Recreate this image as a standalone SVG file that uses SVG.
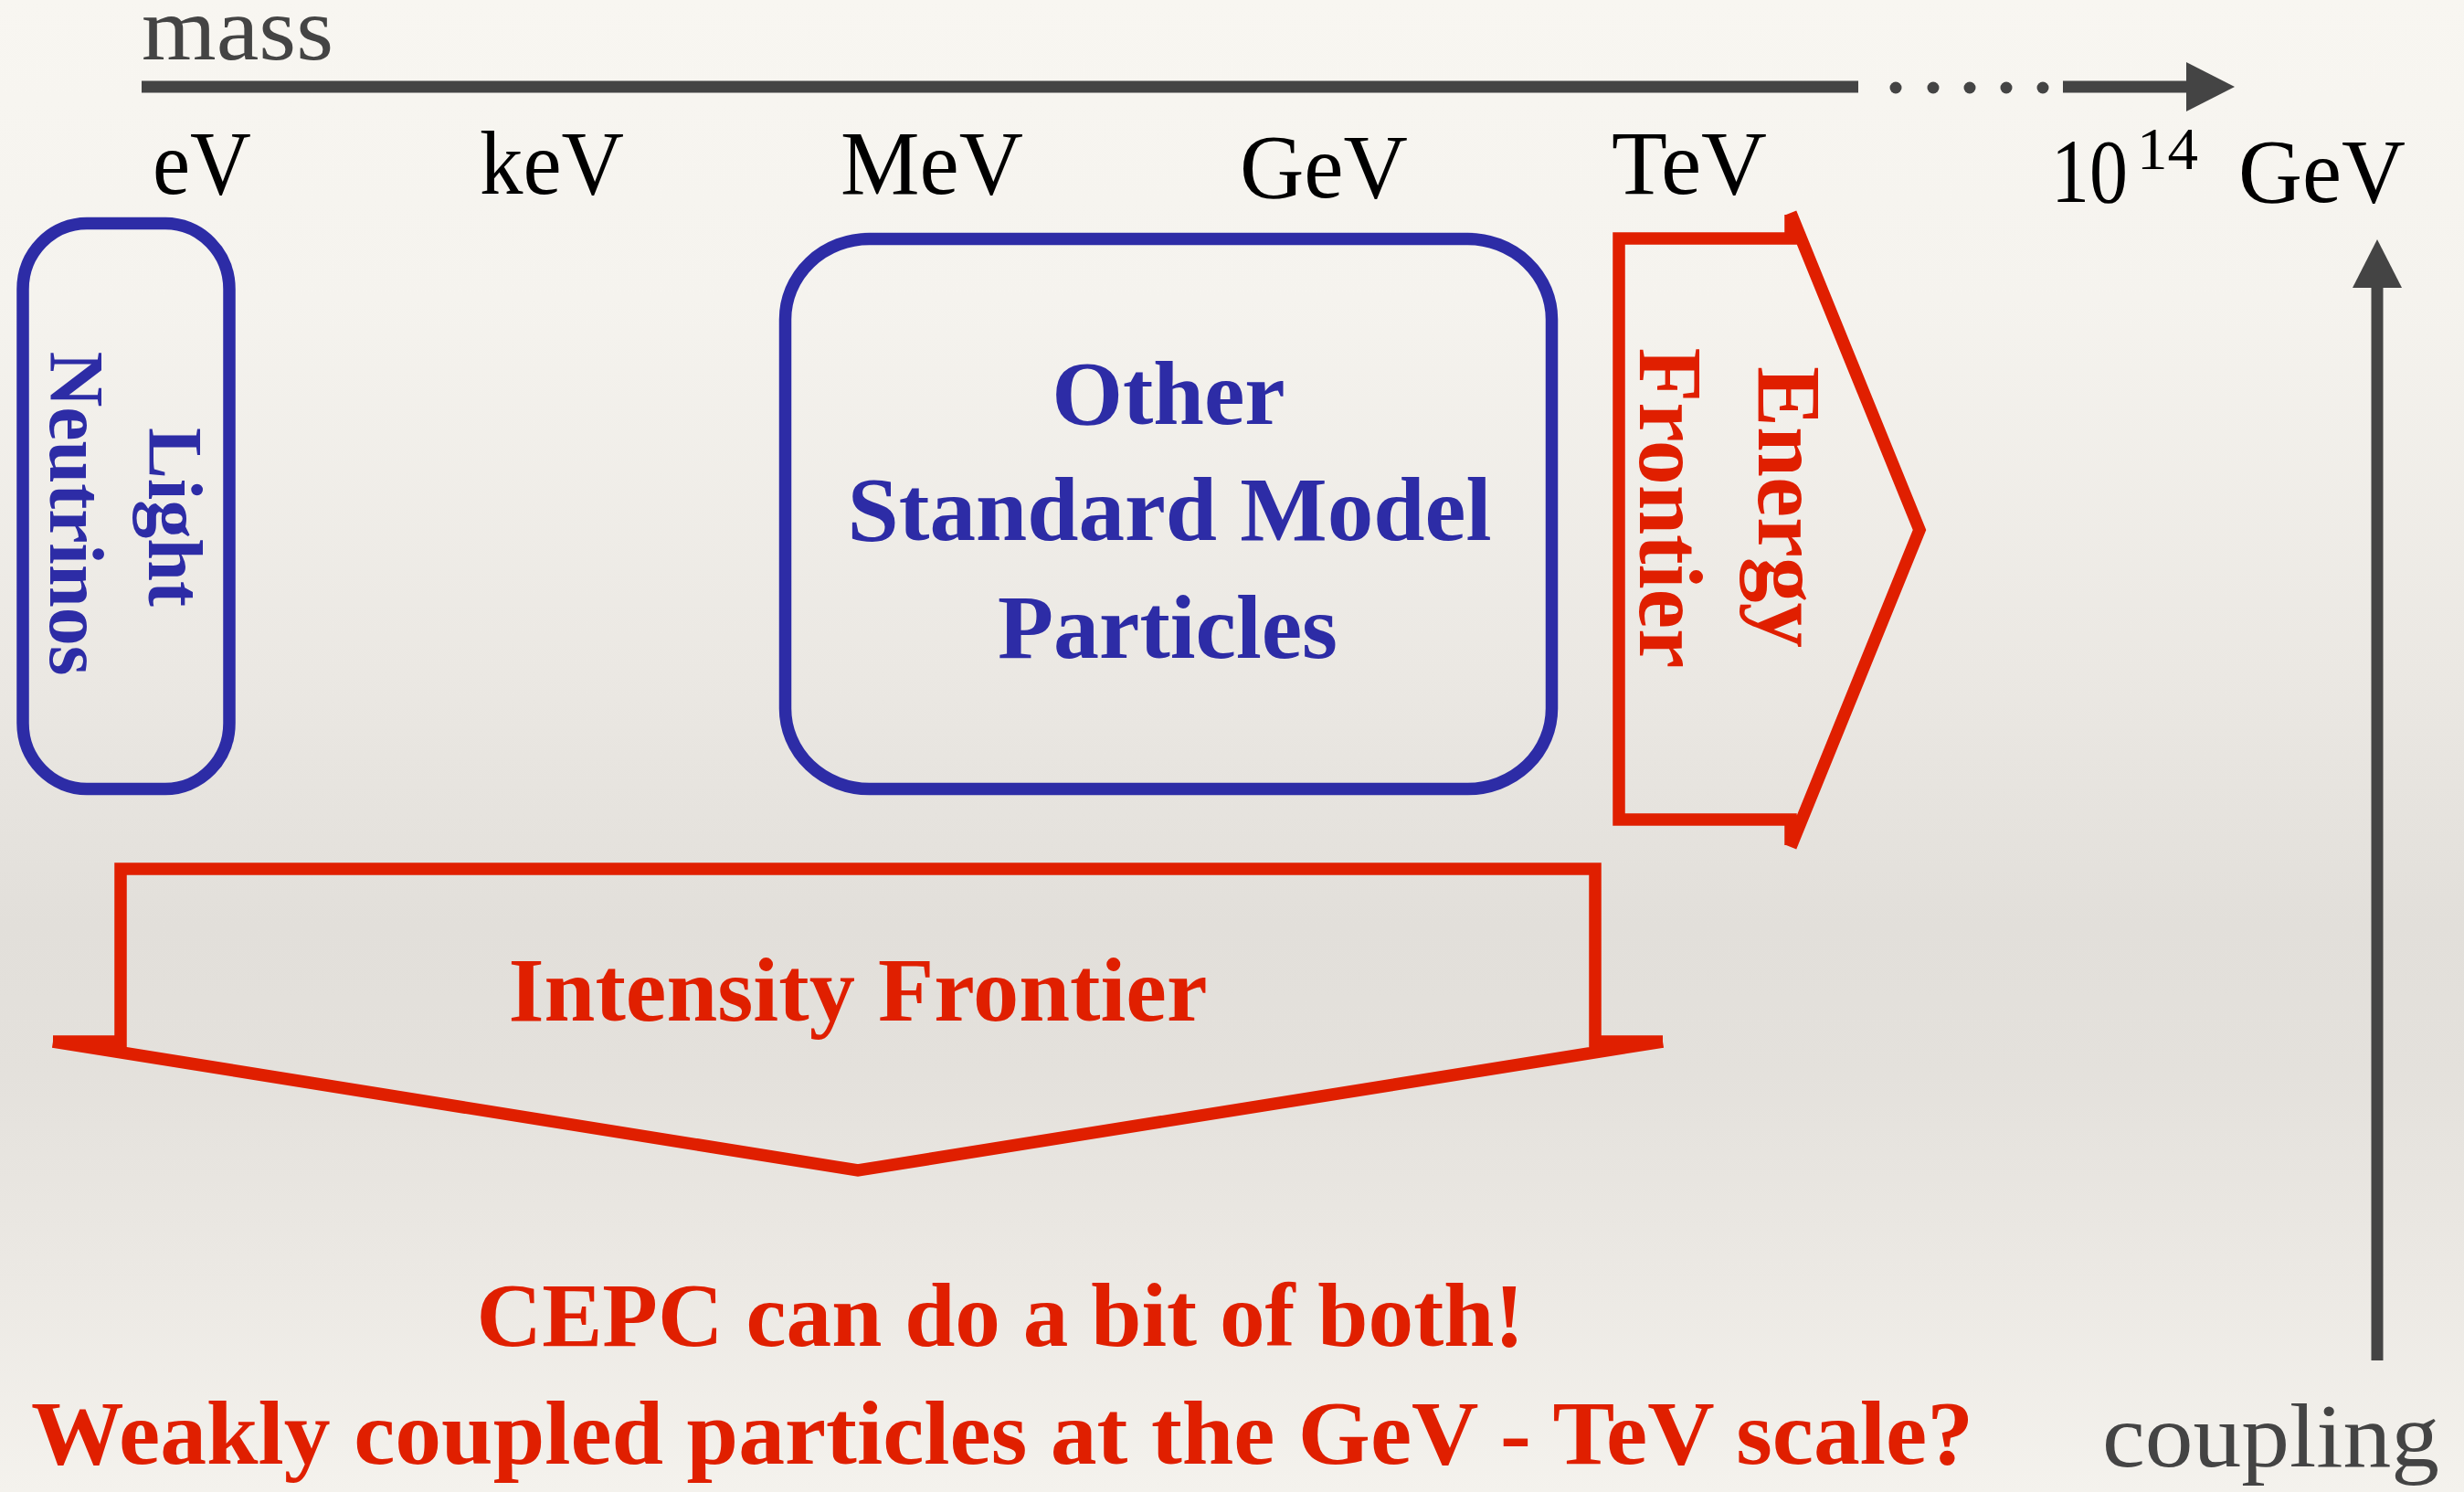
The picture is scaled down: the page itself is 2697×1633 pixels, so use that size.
<svg xmlns="http://www.w3.org/2000/svg" width="2697" height="1633" viewBox="0 0 2697 1633">
  <defs>
    <linearGradient id="paper" x1="0" y1="0" x2="0" y2="1">
      <stop offset="0" stop-color="#f8f6f1"/>
      <stop offset="0.2" stop-color="#f5f3ee"/>
      <stop offset="0.45" stop-color="#ebe8e3"/>
      <stop offset="0.62" stop-color="#e2dfda"/>
      <stop offset="0.72" stop-color="#e4e1dc"/>
      <stop offset="0.86" stop-color="#ece9e4"/>
      <stop offset="1" stop-color="#f4f2ed"/>
    </linearGradient>
    <marker id="head" markerUnits="userSpaceOnUse" markerWidth="54" markerHeight="54" refX="0" refY="27" orient="auto" viewBox="0 0 54 54">
      <path d="M0,0 L53,27 L0,54 Z" fill="#444444"/>
    </marker>
  </defs>
  <style>
    .axis { stroke: #444444; stroke-width: 13; fill: none; }
    .dot { fill: #444444; }
    .unit { font-family: "Liberation Serif", "Times New Roman", serif; font-size: 100px; fill: #000000; }
    .axlabel { font-family: "Liberation Serif", "Times New Roman", serif; font-size: 100px; fill: #444444; }
    .blue { fill: none; stroke: #2d2ca6; stroke-width: 13.5; }
    .red { fill: none; stroke: #e01f00; stroke-width: 13.5; stroke-linejoin: miter; stroke-miterlimit: 10; }
    .tblue { font-family: "Liberation Serif", "Times New Roman", serif; font-weight: bold; font-size: 100px; fill: #2d2ca6; }
    .tred { font-family: "Liberation Serif", "Times New Roman", serif; font-weight: bold; font-size: 100px; fill: #e01f00; }
  </style>

  <rect x="0" y="0" width="2697" height="1633" fill="url(#paper)"/>

  <!-- axes -->
  <g id="connectors">
    <line class="axis" x1="155" y1="95" x2="2034" y2="95"/>
    <circle class="dot" cx="2075" cy="96" r="6.5"/>
    <circle class="dot" cx="2116" cy="96" r="6.5"/>
    <circle class="dot" cx="2156" cy="96" r="6.5"/>
    <circle class="dot" cx="2196" cy="96" r="6.5"/>
    <circle class="dot" cx="2236" cy="96" r="6.5"/>
    <line class="axis" x1="2258" y1="95" x2="2393" y2="95" marker-end="url(#head)"/>
    <line class="axis" x1="2602" y1="1489" x2="2602" y2="315" marker-end="url(#head)"/>
  </g>

  <!-- axis labels -->
  <g id="labels">
    <text class="axlabel" x="155" y="65" textLength="210" lengthAdjust="spacingAndGlyphs">mass</text>
    <text class="unit" x="167" y="212" textLength="108" lengthAdjust="spacingAndGlyphs">eV</text>
    <text class="unit" x="525" y="212" textLength="158" lengthAdjust="spacingAndGlyphs">keV</text>
    <text class="unit" x="920" y="212" textLength="200" lengthAdjust="spacingAndGlyphs">MeV</text>
    <text class="unit" x="1357" y="216" textLength="184" lengthAdjust="spacingAndGlyphs">GeV</text>
    <text class="unit" x="1764" y="212" textLength="170" lengthAdjust="spacingAndGlyphs">TeV</text>
    <text class="unit" x="2245" y="221" textLength="84" lengthAdjust="spacingAndGlyphs">10</text>
    <text class="unit" x="2339" y="185" style="font-size:65px" textLength="67" lengthAdjust="spacingAndGlyphs">14</text>
    <text class="unit" x="2450" y="221" textLength="183" lengthAdjust="spacingAndGlyphs">GeV</text>
    <text class="axlabel" x="2301" y="1605" textLength="369" lengthAdjust="spacingAndGlyphs">coupling</text>
  </g>

  <!-- light neutrinos -->
  <g id="light-neutrinos">
    <rect class="blue" x="25" y="244.5" width="226" height="619" rx="70" ry="72"/>
    <text class="tblue" style="font-size:84px" text-anchor="middle" transform="translate(163,566) rotate(90)">Light</text>
    <text class="tblue" style="font-size:84px" text-anchor="middle" transform="translate(55,562) rotate(90)">Neutrinos</text>
  </g>

  <!-- other standard model particles -->
  <g id="standard-model">
    <rect class="blue" x="859.5" y="261.5" width="839" height="602" rx="92" ry="88"/>
    <text class="tblue" x="1279" y="464" text-anchor="middle">Other</text>
    <text class="tblue" x="1280" y="591" text-anchor="middle" textLength="705" lengthAdjust="spacingAndGlyphs">Standard Model</text>
    <text class="tblue" x="1278" y="720" text-anchor="middle">Particles</text>
  </g>

  <!-- energy frontier (arrow pointing right) -->
  <g id="energy-frontier">
    <path class="red" d="M1960,233 L2101,580 L1960,927 M1960,925 V897 H1772 V261 H1960 V235"/>
    <text class="tred" text-anchor="middle" transform="translate(1925,555) rotate(90)" textLength="308" lengthAdjust="spacingAndGlyphs">Energy</text>
    <text class="tred" text-anchor="middle" transform="translate(1795,556) rotate(90)" textLength="351" lengthAdjust="spacingAndGlyphs">Frontier</text>
  </g>

  <!-- intensity frontier (arrow pointing down) -->
  <g id="intensity-frontier">
    <path class="red" d="M58,1140 L939,1281 L1820,1140 M1820,1140 H1746 V951 H132 V1140 H58"/>
    <text class="tred" x="939" y="1117" text-anchor="middle" textLength="765" lengthAdjust="spacingAndGlyphs">Intensity Frontier</text>
  </g>

  <!-- conclusion -->
  <g id="summary">
    <text class="tred" x="1095" y="1473" text-anchor="middle" textLength="1147" lengthAdjust="spacingAndGlyphs">CEPC can do a bit of both!</text>
    <text class="tred" x="1097" y="1602" text-anchor="middle" textLength="2126" lengthAdjust="spacingAndGlyphs">Weakly coupled particles at the GeV - TeV scale?</text>
  </g>
</svg>
